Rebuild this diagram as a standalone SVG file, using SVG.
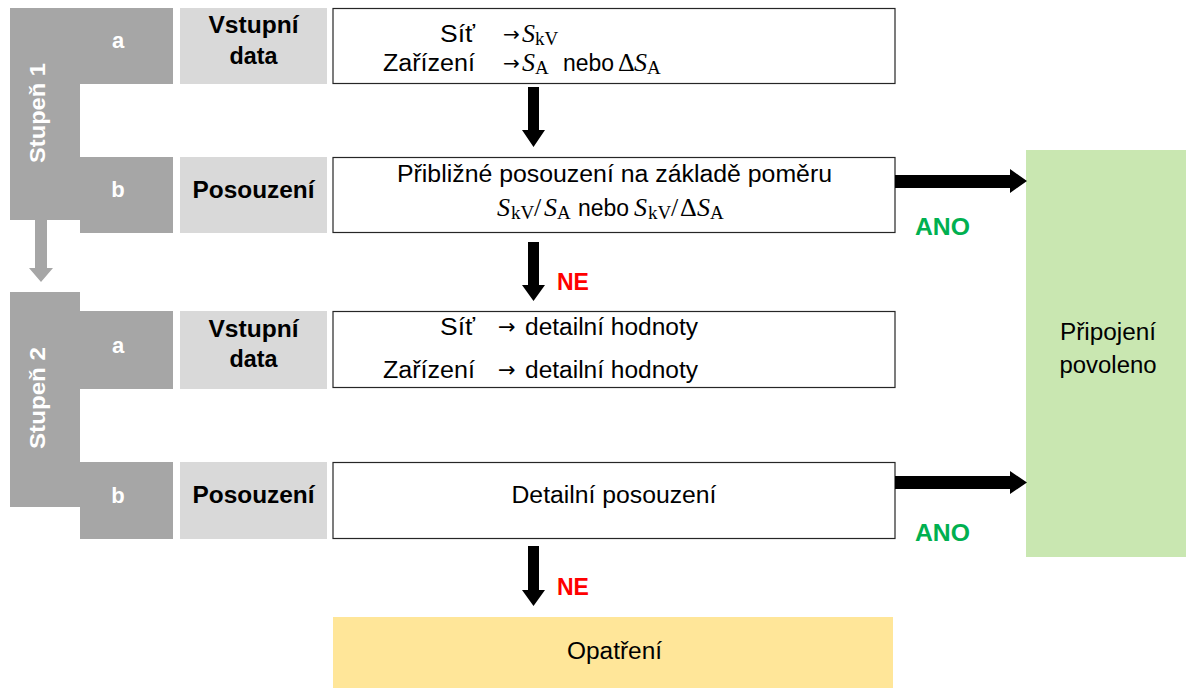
<svg xmlns="http://www.w3.org/2000/svg" width="1186" height="688" viewBox="0 0 1186 688">
<style>
.stage{fill:#A6A6A6}
.lab{fill:#D9D9D9}
.box{fill:#FFFFFF;stroke:#262626;stroke-width:1.2}
.t{font-family:"Liberation Sans",Arial,sans-serif;font-size:23px;fill:#000}
.b{font-family:"Liberation Sans",Arial,sans-serif;font-size:23px;font-weight:bold;fill:#000}
.w{font-family:"Liberation Sans",Arial,sans-serif;font-size:22px;font-weight:bold;fill:#FFFFFF}
.m{font-family:"Liberation Serif","Times New Roman",serif;font-size:26px;font-style:italic;fill:#000}
.sub{font-family:"Liberation Serif","Times New Roman",serif;font-size:19px;font-style:normal}
.up{font-style:normal}
.ar{font-family:"DejaVu Sans",sans-serif;font-size:20px;fill:#000}
.ar2{font-family:"DejaVu Sans",sans-serif;font-size:21px;fill:#000}
.ne{font-family:"Liberation Sans",Arial,sans-serif;font-size:23px;font-weight:bold;fill:#FF0000}
.ano{font-family:"Liberation Sans",Arial,sans-serif;font-size:23px;font-weight:bold;fill:#00B050}
.blk{fill:#000}
</style>
<rect width="1186" height="688" fill="#FFFFFF"/>

<g id="stupen1">
<path class="stage" d="M10,8 H173 V84 H80 V157 H173 V233 H80 V220 H10 Z"/>
<text class="w" transform="translate(45,113) rotate(-90)" text-anchor="middle" textLength="100" lengthAdjust="spacingAndGlyphs">Stupeň 1</text>
<text class="w" x="118" y="48" text-anchor="middle">a</text>
<text class="w" x="118" y="197" text-anchor="middle">b</text>
</g>

<g id="stupen2">
<path class="stage" d="M10,292 H80 V311 H173 V389 H80 V462 H173 V539 H80 V507 H10 Z"/>
<text class="w" transform="translate(45,398) rotate(-90)" text-anchor="middle" textLength="102" lengthAdjust="spacingAndGlyphs">Stupeň 2</text>
<text class="w" x="118" y="353" text-anchor="middle">a</text>
<text class="w" x="118" y="503" text-anchor="middle">b</text>
</g>

<g id="label1a">
<rect class="lab" x="180" y="8" width="147" height="76"/>
<text class="b" x="253.5" y="33" text-anchor="middle" textLength="90" lengthAdjust="spacingAndGlyphs">Vstupní</text>
<text class="b" x="253.5" y="64" text-anchor="middle" textLength="48" lengthAdjust="spacingAndGlyphs">data</text>
</g>
<g id="label1b">
<rect class="lab" x="180" y="157" width="147" height="76"/>
<text class="b" x="253.5" y="198" text-anchor="middle" textLength="122" lengthAdjust="spacingAndGlyphs">Posouzení</text>
</g>
<g id="label2a">
<rect class="lab" x="180" y="311" width="147" height="78"/>
<text class="b" x="253.5" y="337" text-anchor="middle" textLength="90" lengthAdjust="spacingAndGlyphs">Vstupní</text>
<text class="b" x="253.5" y="367" text-anchor="middle" textLength="48" lengthAdjust="spacingAndGlyphs">data</text>
</g>
<g id="label2b">
<rect class="lab" x="180" y="462" width="147" height="77"/>
<text class="b" x="253.5" y="503" text-anchor="middle" textLength="122" lengthAdjust="spacingAndGlyphs">Posouzení</text>
</g>

<g id="box1">
<rect class="box" x="333" y="8.5" width="562" height="75"/>
<text class="t" x="440" y="42" textLength="35" lengthAdjust="spacingAndGlyphs">Síť</text>
<text class="ar" x="503" y="41">→</text>
<text class="m" y="42"><tspan x="522">S</tspan><tspan class="sub" x="535" dy="3">kV</tspan></text>
<text class="t" x="383" y="71" textLength="92" lengthAdjust="spacingAndGlyphs">Zařízení</text>
<text class="ar" x="503" y="70">→</text>
<text class="m" y="71"><tspan x="522">S</tspan><tspan class="sub" x="535" dy="3">A</tspan></text>
<text class="t" x="563" y="71" textLength="51" lengthAdjust="spacingAndGlyphs">nebo</text>
<text class="m" y="71"><tspan class="up" x="618">Δ</tspan><tspan x="634">S</tspan><tspan class="sub" x="647" dy="3">A</tspan></text>
</g>

<g id="box2">
<rect class="box" x="333" y="157.5" width="562" height="75"/>
<text class="t" x="614.5" y="182" text-anchor="middle" textLength="435" lengthAdjust="spacingAndGlyphs">Přibližné posouzení na základě poměru</text>
<text class="m" y="216"><tspan x="497">S</tspan><tspan class="sub" x="511" dy="3">kV</tspan><tspan class="up" x="534" dy="-3">/</tspan><tspan x="544">S</tspan><tspan class="sub" x="557" dy="3">A</tspan></text>
<text class="t" x="578" y="216" textLength="51" lengthAdjust="spacingAndGlyphs">nebo</text>
<text class="m" y="216"><tspan x="634">S</tspan><tspan class="sub" x="648" dy="3">kV</tspan><tspan class="up" x="671" dy="-3">/</tspan><tspan class="up" x="680">Δ</tspan><tspan x="697">S</tspan><tspan class="sub" x="710" dy="3">A</tspan></text>
</g>

<g id="box3">
<rect class="box" x="333" y="311.5" width="562" height="76"/>
<text class="t" x="440" y="335" textLength="35" lengthAdjust="spacingAndGlyphs">Síť</text>
<text class="ar2" x="498" y="334">→</text>
<text class="t" x="525" y="335" textLength="173" lengthAdjust="spacingAndGlyphs">detailní hodnoty</text>
<text class="t" x="383" y="378" textLength="92" lengthAdjust="spacingAndGlyphs">Zařízení</text>
<text class="ar2" x="498" y="377">→</text>
<text class="t" x="525" y="378" textLength="173" lengthAdjust="spacingAndGlyphs">detailní hodnoty</text>
</g>

<g id="box4">
<rect class="box" x="333" y="462.5" width="562" height="76"/>
<text class="t" x="614" y="503" text-anchor="middle" textLength="205" lengthAdjust="spacingAndGlyphs">Detailní posouzení</text>
</g>

<g id="opatreni">
<rect x="333" y="617" width="560" height="71" fill="#FFE699"/>
<text class="t" x="614.5" y="659" text-anchor="middle" textLength="95" lengthAdjust="spacingAndGlyphs">Opatření</text>
</g>

<g id="pripojeni">
<rect x="1026" y="150" width="160" height="407" fill="#C9E7B1"/>
<text class="t" x="1108" y="340" text-anchor="middle" textLength="96" lengthAdjust="spacingAndGlyphs">Připojení</text>
<text class="t" x="1108" y="373" text-anchor="middle" textLength="97" lengthAdjust="spacingAndGlyphs">povoleno</text>
</g>

<g id="connectors">
<path class="stage" d="M35,220 H47 V268 H53 L41,282 L29,268 H35 Z"/>
<path class="blk" d="M528,87 H539 V130 H545 L533.5,147 L522,130 H528 Z"/>
<path class="blk" d="M528,242 H539 V285 H545 L533.5,301 L522,285 H528 Z"/>
<path class="blk" d="M528,546 H539 V590 H545 L533.5,606 L522,590 H528 Z"/>
<path class="blk" d="M895,175 H1010 V169 L1027,181 L1010,193 V188 H895 Z"/>
<path class="blk" d="M895,476 H1010 V471 L1027,482.5 L1010,494 V489 H895 Z"/>
<text class="ne" x="557" y="290">NE</text>
<text class="ne" x="557" y="595">NE</text>
<text class="ano" x="915" y="235" textLength="55" lengthAdjust="spacingAndGlyphs">ANO</text>
<text class="ano" x="915" y="541" textLength="55" lengthAdjust="spacingAndGlyphs">ANO</text>
</g>
</svg>
